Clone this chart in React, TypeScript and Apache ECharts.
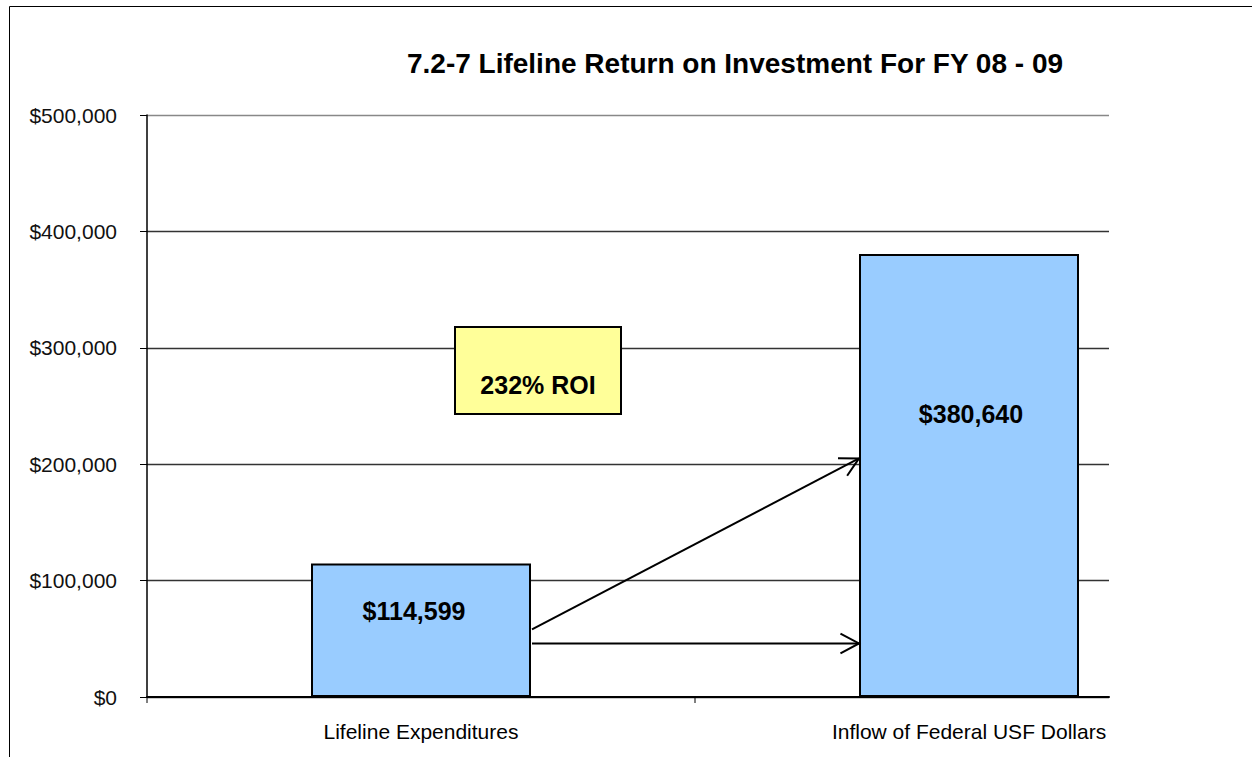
import React, { useEffect, useRef } from "react";
import * as echarts from "echarts";

const categories = ["Lifeline Expenditures", "Inflow of Federal USF Dollars"];
const values = [114599, 380640];
const yMin = 0;
const yMax = 500000;
const yStep = 100000;
const titleText = "7.2-7 Lifeline Return on Investment For FY 08 - 09";
const roiText = "232% ROI";
// arrow end values on the y axis (start, end)
const arrowDiagonal = [58000, 205000];
const arrowFlat = [46000, 46000];

const FONT = "'Liberation Sans', Arial, sans-serif";
const fmt = (v: number) => "$" + v.toLocaleString("en-US");

export default function App() {
  const ref = useRef<HTMLDivElement>(null);
  useEffect(() => {
    const chart = echarts.init(ref.current!, null, { renderer: "svg" });
    const barWidth = 220;
    const labelOffsets = [
      [-7, -19],
      [2, -61],
    ];
    const option: any = {
      animation: false,
      backgroundColor: "#ffffff",
      grid: [
        { left: 147, right: 9, top: 115, bottom: 60 },
        { left: 147, right: 143, top: 115, bottom: 60 },
      ],
      xAxis: [
        {
          type: "category",
          gridIndex: 0,
          data: categories,
          axisLine: { show: false },
          axisTick: { show: false },
          axisLabel: { color: "#000", fontFamily: FONT, fontSize: 21, margin: 24 },
          splitLine: { show: false },
        },
        {
          type: "value",
          gridIndex: 1,
          min: 0,
          max: 1,
          axisLine: { show: true, onZero: false, lineStyle: { color: "#000", width: 2 } },
          axisTick: { show: false },
          axisLabel: { show: false },
          splitLine: { show: false },
        },
      ],
      yAxis: [
        {
          type: "value",
          gridIndex: 0,
          min: yMin,
          max: yMax,
          interval: yStep,
          axisLine: { show: true, lineStyle: { color: "#000", width: 1.5 } },
          axisTick: { show: true, length: 7, lineStyle: { color: "#000", width: 1 } },
          axisLabel: { formatter: fmt, color: "#111", fontFamily: FONT, fontSize: 21, margin: 30 },
          splitLine: { show: false },
        },
        {
          type: "value",
          gridIndex: 1,
          min: yMin,
          max: yMax,
          interval: yStep,
          axisLine: { show: false },
          axisTick: { show: false },
          axisLabel: { show: false },
          splitLine: {
            show: true,
            lineStyle: {
              color: ["#333", "#333", "#333", "#333", "#333", "#888"],
              width: 1.3,
            },
          },
        },
      ],
      series: [
        {
          type: "bar",
          xAxisIndex: 0,
          yAxisIndex: 0,
          barWidth,
          z: 5,
          data: values.map((v, i) => ({ value: v, label: { offset: labelOffsets[i] } })),
          itemStyle: { color: "#99CCFF", borderColor: "#000", borderWidth: 2 },
          label: {
            show: true,
            position: "inside",
            formatter: (p: any) => fmt(p.value),
            color: "#000",
            fontFamily: FONT,
            fontWeight: "bold",
            fontSize: 25,
          },
        },
      ],
    };
    chart.setOption(option);

    const c0 = chart.convertToPixel({ xAxisIndex: 0 }, categories[0]) as number;
    const c1 = chart.convertToPixel({ xAxisIndex: 0 }, categories[1]) as number;
    const half = (c1 - c0) / 2;
    const yPx = (v: number) => chart.convertToPixel({ yAxisIndex: 0 }, v) as number;
    const y0 = yPx(0);
    const xStart = c0 + barWidth / 2 + 1;
    const xEnd = c1 - barWidth / 2;

    const arrow = (x1: number, y1: number, x2: number, y2: number) => {
      const ang = Math.atan2(y2 - y1, x2 - x1);
      const len = 21;
      const spread = (28 * Math.PI) / 180;
      const a1 = [x2 - len * Math.cos(ang - spread), y2 - len * Math.sin(ang - spread)];
      const a2 = [x2 - len * Math.cos(ang + spread), y2 - len * Math.sin(ang + spread)];
      return [
        {
          type: "line",
          shape: { x1, y1, x2, y2 },
          style: { stroke: "#000", lineWidth: 2 },
          z: 20,
          silent: true,
        },
        {
          type: "polyline",
          shape: { points: [a1, [x2, y2], a2] },
          style: { stroke: "#000", lineWidth: 2, fill: null },
          z: 20,
          silent: true,
        },
      ];
    };

    const graphics: any[] = [
      {
        type: "rect",
        shape: { x: 9.5, y: 6.5, width: 1400, height: 900 },
        style: { fill: null, stroke: "#000", lineWidth: 1 },
        silent: true,
        z: 30,
      },
      {
        type: "text",
        x: 735,
        y: 63,
        style: {
          text: titleText,
          fill: "#000",
          font: `bold 28px ${FONT}`,
          align: "center",
          verticalAlign: "middle",
        },
        z: 30,
      },
      {
        type: "rect",
        shape: { x: 455, y: 327, width: 166, height: 87 },
        style: { fill: "#FFFF99", stroke: "#000", lineWidth: 2 },
        z: 20,
      },
      {
        type: "text",
        x: 538,
        y: 385,
        style: {
          text: roiText,
          fill: "#000",
          font: `bold 25px ${FONT}`,
          align: "center",
          verticalAlign: "middle",
        },
        z: 21,
      },
      {
        type: "line",
        shape: { x1: c0 - half, y1: y0, x2: c0 - half, y2: y0 + 6 },
        style: { stroke: "#000", lineWidth: 1 },
        z: 20,
      },
      {
        type: "line",
        shape: { x1: c0 + half, y1: y0, x2: c0 + half, y2: y0 + 6 },
        style: { stroke: "#000", lineWidth: 1 },
        z: 20,
      },
      ...arrow(xStart, yPx(arrowDiagonal[0]), xEnd, yPx(arrowDiagonal[1])),
      ...arrow(xStart, yPx(arrowFlat[0]), xEnd, yPx(arrowFlat[1])),
    ];
    chart.setOption({ graphic: graphics });

    return () => chart.dispose();
  }, []);

  return (
    <div
      ref={ref}
      style={{ position: "fixed", left: 0, top: 0, width: 1252, height: 757, background: "#fff" }}
    />
  );
}
